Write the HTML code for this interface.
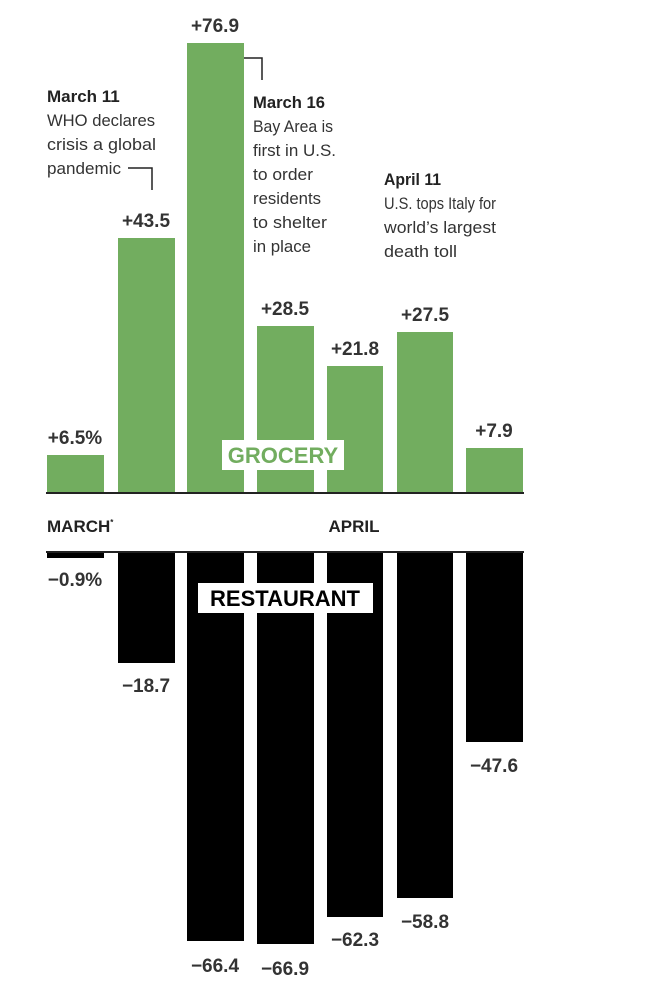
<!DOCTYPE html>
<html><head><meta charset="utf-8"><style>
html,body{margin:0;padding:0;background:#fff;}
svg{display:block;font-family:"Liberation Sans Narrow","Liberation Sans",sans-serif;}
.v{font-size:19px;font-weight:bold;fill:#333;text-anchor:middle;}
.a{font-size:17px;fill:#333;}
.ab{font-size:17px;font-weight:bold;fill:#222;}
</style></head><body>
<svg width="654" height="993" viewBox="0 0 654 993">
<g fill="#72ad5f">
<rect x="47" y="455" width="57" height="38"/>
<rect x="118" y="238" width="57" height="255"/>
<rect x="187" y="43" width="57" height="450"/>
<rect x="257" y="326" width="57" height="167"/>
<rect x="327" y="366" width="56" height="127"/>
<rect x="397" y="332" width="56" height="161"/>
<rect x="466" y="448" width="57" height="45"/>
</g>
<rect x="46" y="492" width="478" height="2" fill="#222"/>
<g fill="#000">
<rect x="47" y="552" width="57" height="6"/>
<rect x="118" y="552" width="57" height="111"/>
<rect x="187" y="552" width="57" height="389"/>
<rect x="257" y="552" width="57" height="392"/>
<rect x="327" y="552" width="56" height="365"/>
<rect x="397" y="552" width="56" height="346"/>
<rect x="466" y="552" width="57" height="190"/>
</g>
<rect x="46" y="551" width="478" height="2" fill="#222"/>
<rect x="222" y="440" width="122" height="30" fill="#fff"/>
<text x="283" y="463" style="font-size:22px;font-weight:bold;fill:#72ad5f;text-anchor:middle">GROCERY</text>
<rect x="198" y="583" width="175" height="30" fill="#fff"/>
<text x="285" y="606" style="font-size:22px;font-weight:bold;fill:#000;text-anchor:middle">RESTAURANT</text>
<text x="47" y="532" style="font-size:17px;font-weight:bold;fill:#222">MARCH<tspan font-size="8" dy="-7">*</tspan></text>
<text x="354" y="532" style="font-size:17px;font-weight:bold;fill:#222;text-anchor:middle">APRIL</text>
<text class="v" x="75" y="444">+6.5%</text>
<text class="v" x="146" y="227">+43.5</text>
<text class="v" x="215" y="32">+76.9</text>
<text class="v" x="285" y="315">+28.5</text>
<text class="v" x="355" y="355">+21.8</text>
<text class="v" x="425" y="321">+27.5</text>
<text class="v" x="494" y="437">+7.9</text>
<text class="v" x="75" y="586">−0.9%</text>
<text class="v" x="146" y="692">−18.7</text>
<text class="v" x="215" y="972">−66.4</text>
<text class="v" x="285" y="975">−66.9</text>
<text class="v" x="355" y="946">−62.3</text>
<text class="v" x="425" y="928">−58.8</text>
<text class="v" x="494" y="772">−47.6</text>
<text class="ab" x="47" y="102">March 11</text>
<text class="a" x="47" y="126" textLength="108" lengthAdjust="spacingAndGlyphs">WHO declares</text>
<text class="a" x="47" y="150" textLength="109" lengthAdjust="spacingAndGlyphs">crisis a global</text>
<text class="a" x="47" y="174" textLength="74" lengthAdjust="spacingAndGlyphs">pandemic</text>
<polyline points="128,168 152,168 152,190" fill="none" stroke="#222" stroke-width="1.5"/>
<polyline points="244,58 262,58 262,80" fill="none" stroke="#222" stroke-width="1.5"/>
<text class="ab" x="253" y="108" textLength="72" lengthAdjust="spacingAndGlyphs">March 16</text>
<text class="a" x="253" y="132" textLength="80" lengthAdjust="spacingAndGlyphs">Bay Area is</text>
<text class="a" x="253" y="156" textLength="83" lengthAdjust="spacingAndGlyphs">first in U.S.</text>
<text class="a" x="253" y="180" textLength="60" lengthAdjust="spacingAndGlyphs">to order</text>
<text class="a" x="253" y="204" textLength="68" lengthAdjust="spacingAndGlyphs">residents</text>
<text class="a" x="253" y="228" textLength="74" lengthAdjust="spacingAndGlyphs">to shelter</text>
<text class="a" x="253" y="252" textLength="58" lengthAdjust="spacingAndGlyphs">in place</text>
<text class="ab" x="384" y="185" textLength="57" lengthAdjust="spacingAndGlyphs">April 11</text>
<text class="a" x="384" y="209" textLength="112" lengthAdjust="spacingAndGlyphs">U.S. tops Italy for</text>
<text class="a" x="384" y="233" textLength="112" lengthAdjust="spacingAndGlyphs">world’s largest</text>
<text class="a" x="384" y="257" textLength="73" lengthAdjust="spacingAndGlyphs">death toll</text>
</svg>
</body></html>
